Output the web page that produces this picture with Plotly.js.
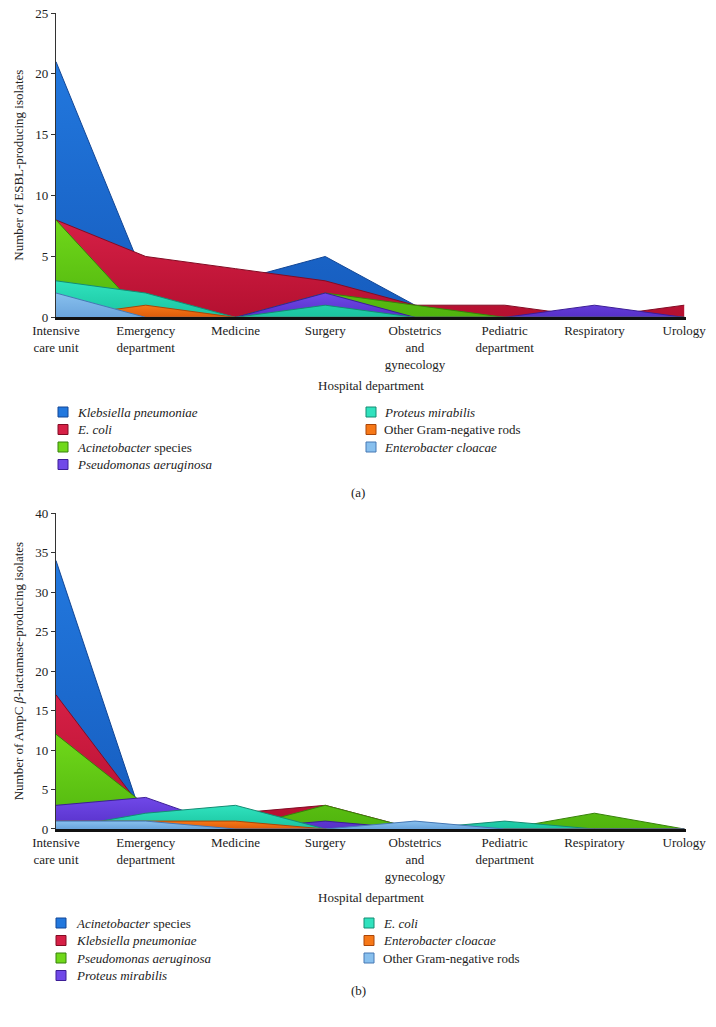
<!DOCTYPE html>
<html>
<head>
<meta charset="utf-8">
<script src="https://cdn.plot.ly/plotly-3.0.1.min.js"></script>
<style>
  html, body { margin: 0; padding: 0; background: #ffffff; }
  #chart { width: 716px; height: 1027px; }
</style>
</head>
<body>
<div id="chart"></div>
<script>
// ---------- categories / tick labels ----------
const categories = ['Intensive care unit', 'Emergency department', 'Medicine', 'Surgery',
  'Obstetrics and gynecology', 'Pediatric department', 'Respiratory', 'Urology'];
const tickLabels = ['Intensive<br>care unit', 'Emergency<br>department', 'Medicine', 'Surgery',
  'Obstetrics<br>and<br>gynecology', 'Pediatric<br>department', 'Respiratory', 'Urology'];

// ---------- (a) ESBL-producing isolates ----------
const esblNames = ['<i>Klebsiella pneumoniae</i>', '<i>E. coli</i>', '<i>Acinetobacter</i> species',
  '<i>Pseudomonas aeruginosa</i>', '<i>Proteus mirabilis</i>', 'Other Gram-negative rods',
  '<i>Enterobacter cloacae</i>'];
const esblKlebsiella = [21, 3, 3, 5, 1, 0, 0, 0];
const esblEcoli      = [8, 5, 4, 3, 1, 1, 0, 1];
const esblAcineto    = [8, 0, 0, 2, 1, 0, 0, 0];
const esblPseudo     = [0, 0, 0, 2, 0, 0, 1, 0];
const esblProteus    = [3, 2, 0, 1, 0, 0, 0, 0];
const esblOther      = [0, 1, 0, 0, 0, 0, 0, 0];
const esblEntero     = [2, 0, 0, 0, 0, 0, 0, 0];

// ---------- (b) AmpC beta-lactamase-producing isolates ----------
const ampcNames = ['<i>Acinetobacter</i> species', '<i>Klebsiella pneumoniae</i>',
  '<i>Pseudomonas aeruginosa</i>', '<i>Proteus mirabilis</i>', '<i>E. coli</i>',
  '<i>Enterobacter cloacae</i>', 'Other Gram-negative rods'];
const ampcAcineto    = [34, 0, 0, 0, 0, 0, 0, 0];
const ampcKlebsiella = [17, 2, 2, 3, 0, 0, 0, 0];
const ampcPseudo     = [12, 3, 0, 3, 0, 0, 2, 0];
const ampcProteus    = [3, 4, 0, 1, 0, 0, 0, 0];
const ampcEcoli      = [0, 2, 3, 0, 0, 1, 0, 0];
const ampcEntero     = [1, 1, 1, 0, 0, 0, 0, 0];
const ampcOther      = [1, 1, 0, 0, 1, 0, 0, 0];

// ---------- colours (fill top, fill bottom, edge) ----------
const palette = [
  ['rgb(34,120,222)',  'rgb(22,92,190)',  'rgb(18,70,150)'],   // blue
  ['rgb(214,32,70)',   'rgb(180,16,48)',  'rgb(130,12,36)'],   // red
  ['rgb(112,216,26)',  'rgb(80,180,14)',  'rgb(55,130,10)'],   // green
  ['rgb(112,72,232)',  'rgb(86,48,200)',  'rgb(60,30,150)'],   // purple
  ['rgb(48,226,190)',  'rgb(26,196,160)', 'rgb(20,140,115)'],  // teal
  ['rgb(246,120,24)',  'rgb(222,92,10)',  'rgb(170,70,8)'],    // orange
  ['rgb(136,192,238)', 'rgb(106,164,220)','rgb(70,120,180)']   // light blue
];

function area(name, y, col, xa, ya) {
  return {
    type: 'scatter', mode: 'lines', x: categories, y: y,
    fill: 'tozeroy', fillcolor: col[0],
    fillgradient: { type: 'vertical', colorscale: [[0, col[1]], [1, col[0]]] },
    line: { color: col[2], width: 1 },
    name: name, xaxis: xa, yaxis: ya, showlegend: false,
    hoverinfo: 'skip'
  };
}

const esblSeries = [esblKlebsiella, esblEcoli, esblAcineto, esblPseudo, esblProteus, esblOther, esblEntero];
const ampcSeries = [ampcAcineto, ampcKlebsiella, ampcPseudo, ampcProteus, ampcEcoli, ampcEntero, ampcOther];

const data = [];
esblSeries.forEach((s, i) => data.push(area(esblNames[i], s, palette[i], 'x', 'y')));
ampcSeries.forEach((s, i) => data.push(area(ampcNames[i], s, palette[i], 'x2', 'y2')));

const FONT = { family: 'Liberation Serif, Times New Roman, serif', size: 13, color: '#222' };

function xaxis(anchor) {
  return {
    anchor: anchor, domain: [0, 1], type: 'category',
    categoryorder: 'array', categoryarray: categories,
    tickmode: 'array', tickvals: categories, ticktext: tickLabels,
    range: [0, 7.02], showgrid: false, zeroline: false,
    showline: true, linecolor: '#111', linewidth: 2.5,
    ticks: '', tickfont: FONT,
    title: { text: 'Hospital department', font: FONT, standoff: 10 },
    fixedrange: true
  };
}
function yaxis(anchor, dom, max, title) {
  return {
    anchor: anchor, domain: dom, range: [0, max], dtick: 5,
    showgrid: false, zeroline: false,
    showline: true, linecolor: '#333', linewidth: 1.2,
    ticks: 'outside', ticklen: 4, tickcolor: '#333', tickfont: FONT,
    title: { text: title, font: FONT, standoff: 8 },
    fixedrange: true
  };
}

// ---------- legend (drawn as paper-positioned squares + text) ----------
const L = 56, W = 630, B = 829, H = 816;
const px = v => (v - L) / W;
const py = v => (B - v) / H;

const shapes = [];
const annotations = [];
function legendBlock(names, rowsY, colSq, colText) {
  names.forEach((nm, i) => {
    const col = i < 4 ? 0 : 1;
    const row = i < 4 ? i : i - 4;
    const cy = rowsY[row];
    const sx = colSq[col];
    shapes.push({
      type: 'rect', xref: 'paper', yref: 'paper',
      x0: px(sx), x1: px(sx + 10), y0: py(cy + 5), y1: py(cy - 5),
      fillcolor: palette[i][0], line: { color: palette[i][2], width: 1 }
    });
    annotations.push({
      text: nm, xref: 'paper', yref: 'paper', x: px(colText[col]), y: py(cy),
      xanchor: 'left', yanchor: 'middle', showarrow: false, font: FONT
    });
  });
}
legendBlock(esblNames, [412, 429.5, 447, 464.5], [58, 366], [75, 382]);
legendBlock(ampcNames, [923, 940.5, 958, 975.5], [56, 364], [74, 381]);

annotations.push({ text: '(a)', xref: 'paper', yref: 'paper', x: px(358), y: py(492),
  showarrow: false, font: FONT });
annotations.push({ text: '(b)', xref: 'paper', yref: 'paper', x: px(358), y: py(1000),
  showarrow: false, font: FONT });

const layout = {
  width: 716, height: 1027,
  margin: { l: 56, r: 30, t: 13, b: 198 },
  paper_bgcolor: '#ffffff', plot_bgcolor: '#ffffff',
  font: FONT, showlegend: false,
  xaxis: xaxis('y'),
  yaxis: yaxis('x', [0.627, 1.0], 25, 'Number of ESBL-producing isolates'),
  xaxis2: xaxis('y2'),
  yaxis2: yaxis('x2', [0, 0.387], 40, 'Number of AmpC <i>β</i>-lactamase-producing isolates'),
  shapes: shapes,
  annotations: annotations
};

Plotly.newPlot('chart', data, layout, { staticPlot: true, displayModeBar: false });
</script>
</body>
</html>
